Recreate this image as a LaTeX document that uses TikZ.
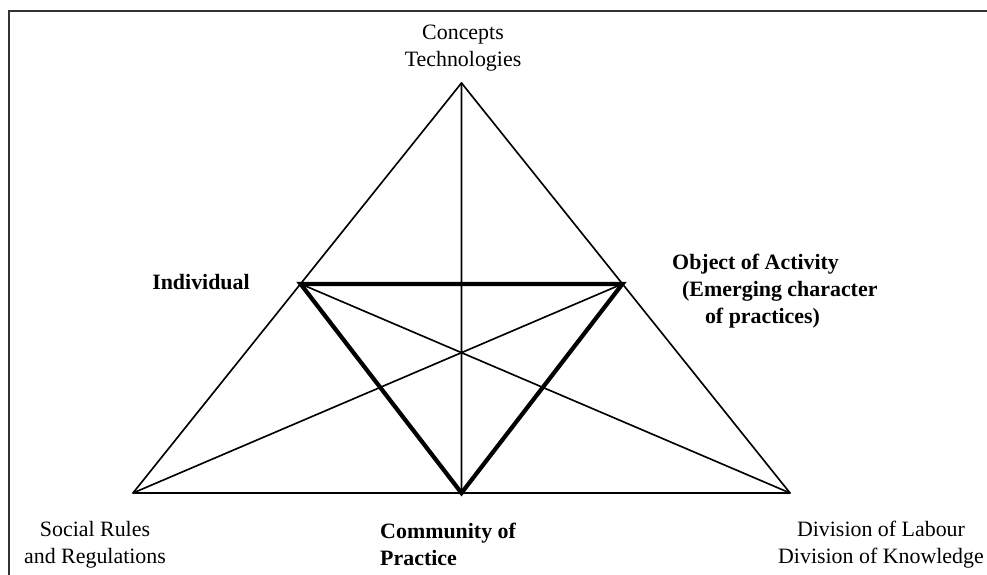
\documentclass[tikz,border=0pt]{standalone}
\usepackage{fontspec}
\setmainfont{Liberation Serif}
\usepackage{tkz-euclide}

\tikzset{lbl/.style={inner sep=0pt,align=center,font=\fontsize{18.7}{23}\selectfont},
         blbl/.style={lbl,font=\fontsize{18.7}{23}\selectfont\bfseries}}

\begin{document}
\begin{tikzpicture}[scale=0.3]
                    \useasboundingbox (0,0) rectangle (98.7,57.5);
                    \tkzDefPoints{0.9/-1/F,0.9/56.4/G,99/56.4/H}
                    \tkzDrawPolySeg[line width=1.7pt,black!80](F,G,H)
                    \tkzDefPoints{46.15/49.2/C,13.3/8.2/S,79/8.2/D}
                    \tkzDefPointBy[homothety = center C ratio .49](S) \tkzGetPoint{I}
                    \tkzDefPointBy[homothety = center C ratio .49](D) \tkzGetPoint{O}
                    \tkzDefMidPoint(S,D) \tkzGetPoint{P}
                    \tkzDrawPolygon[line width=1.4pt](C,S,D)
                    \tkzDrawSegments[line width=1.4pt](C,P S,O D,I)
                    \tkzDrawPolygon[line width=3.6pt,line join=miter](I,O,P)
                    \node[lbl] (concepts) at (46.3,52.65) {Concepts\\Technologies};
                    \node[blbl] (individual) at (20.1,29.3) {Individual};
                    \node[blbl,anchor=west,align=left] (object) at (67.2,28.4)
                        {Object of Activity\\\hspace*{8.5pt}(Emerging character\\\hspace*{28pt}of practices)};
                    \node[lbl] (social) at (9.5,3.0) {Social Rules\\and Regulations};
                    \node[blbl,anchor=west,align=left] (community) at (38.0,3.1) {Community of\\Practice};
                    \node[lbl] (division) at (88.1,3.0) {Division of Labour\\Division of Knowledge};
                \end{tikzpicture}
\end{document}
